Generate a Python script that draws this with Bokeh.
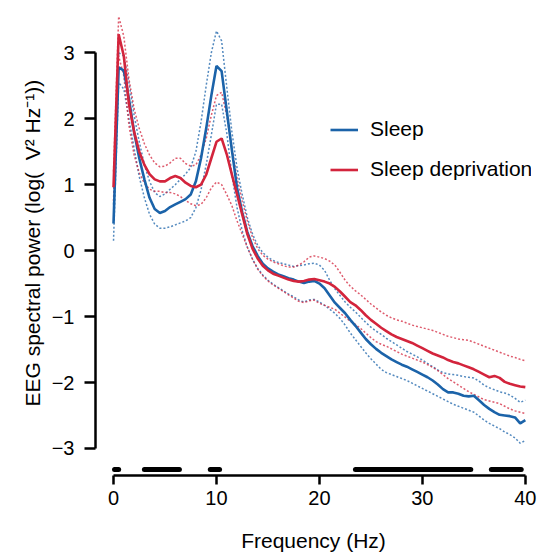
from bokeh.plotting import figure
from bokeh.models import FixedTicker, Legend, LegendItem, Title
from bokeh.embed import file_html
from bokeh.resources import INLINE

freq = [0.0, 0.5, 1.0, 1.5, 2.0, 2.5, 3.0, 3.5, 4.0, 4.5,
        5.0, 5.5, 6.0, 6.5, 7.0, 7.5, 8.0, 8.5, 9.0, 9.5,
        10.0, 10.5, 11.0, 11.5, 12.0, 12.5, 13.0, 13.5, 14.0, 14.5,
        15.0, 15.5, 16.0, 16.5, 17.0, 17.5, 18.0, 18.5, 19.0, 19.5,
        20.0, 20.5, 21.0, 21.5, 22.0, 22.5, 23.0, 23.5, 24.0, 24.5,
        25.0, 25.5, 26.0, 26.5, 27.0, 27.5, 28.0, 28.5, 29.0, 29.5,
        30.0, 30.5, 31.0, 31.5, 32.0, 32.5, 33.0, 33.5, 34.0, 34.5,
        35.0, 35.5, 36.0, 36.5, 37.0, 37.5, 38.0, 38.5, 39.0, 39.5, 40.0]

sleep_mean = [0.41, 2.78, 2.73, 2.30, 1.80, 1.40, 1.08, 0.80, 0.63, 0.57,
              0.60, 0.66, 0.70, 0.74, 0.78, 0.85, 1.05, 1.40, 1.85, 2.35,
              2.80, 2.72, 2.12, 1.52, 0.95, 0.58, 0.28, 0.07, -0.08, -0.20,
              -0.27, -0.32, -0.36, -0.39, -0.42, -0.44, -0.47, -0.49, -0.47, -0.46,
              -0.50, -0.57, -0.68, -0.79, -0.87, -0.95, -1.05, -1.14, -1.24, -1.34,
              -1.42, -1.49, -1.55, -1.60, -1.65, -1.69, -1.73, -1.76, -1.80, -1.84,
              -1.88, -1.92, -1.97, -2.03, -2.10, -2.15, -2.15, -2.17, -2.20, -2.21,
              -2.20, -2.27, -2.34, -2.40, -2.45, -2.49, -2.50, -2.51, -2.53, -2.62, -2.57]

sleep_upper = [0.70, 3.00, 2.95, 2.55, 2.05, 1.65, 1.30, 1.05, 0.88, 0.82,
               0.86, 0.93, 1.00, 1.08, 1.16, 1.26, 1.50, 1.95, 2.50, 3.00,
               3.33, 3.18, 2.48, 1.80, 1.25, 0.85, 0.50, 0.25, 0.08, -0.03,
               -0.10, -0.15, -0.18, -0.20, -0.22, -0.24, -0.23, -0.22, -0.20, -0.19,
               -0.22, -0.30, -0.45, -0.58, -0.68, -0.78, -0.86, -0.93, -1.01, -1.09,
               -1.16, -1.22, -1.27, -1.33, -1.38, -1.43, -1.48, -1.53, -1.57, -1.61,
               -1.66, -1.71, -1.76, -1.81, -1.85, -1.87, -1.88, -1.89, -1.91, -1.92,
               -1.93, -1.98, -2.04, -2.08, -2.11, -2.14, -2.16, -2.19, -2.24, -2.30, -2.27]

sleep_lower = [0.15, 2.55, 2.45, 2.00, 1.55, 1.12, 0.80, 0.55, 0.40, 0.34,
               0.34, 0.36, 0.39, 0.42, 0.45, 0.50, 0.65, 0.92, 1.30, 1.75,
               2.22, 2.22, 1.78, 1.15, 0.65, 0.30, 0.05, -0.13, -0.27, -0.37,
               -0.45, -0.51, -0.56, -0.61, -0.66, -0.70, -0.75, -0.78, -0.75, -0.74,
               -0.78, -0.83, -0.89, -0.95, -1.03, -1.13, -1.25, -1.35, -1.45, -1.55,
               -1.64, -1.72, -1.80, -1.85, -1.88, -1.91, -1.94, -1.97, -2.01, -2.05,
               -2.09, -2.13, -2.17, -2.21, -2.25, -2.29, -2.33, -2.36, -2.39, -2.42,
               -2.45, -2.51, -2.57, -2.62, -2.66, -2.70, -2.75, -2.79, -2.84, -2.92, -2.88]

sd_mean = [0.96, 3.28, 2.95, 2.22, 1.80, 1.50, 1.30, 1.16, 1.08, 1.05,
           1.05, 1.10, 1.13, 1.10, 1.03, 0.98, 0.96, 1.00, 1.15, 1.40,
           1.65, 1.70, 1.46, 1.15, 0.85, 0.55, 0.25, 0.03, -0.12, -0.23,
           -0.30, -0.35, -0.38, -0.41, -0.44, -0.46, -0.47, -0.46, -0.44, -0.43,
           -0.45, -0.47, -0.50, -0.55, -0.62, -0.70, -0.78, -0.83, -0.90, -0.98,
           -1.05, -1.11, -1.17, -1.22, -1.27, -1.31, -1.34, -1.37, -1.40, -1.44,
           -1.48, -1.52, -1.56, -1.59, -1.62, -1.66, -1.69, -1.71, -1.74, -1.77,
           -1.80, -1.84, -1.88, -1.92, -1.90, -1.93, -1.99, -2.02, -2.04, -2.06, -2.07]

sd_upper = [1.20, 3.55, 3.25, 2.60, 2.15, 1.85, 1.62, 1.45, 1.33, 1.27,
            1.28, 1.33, 1.40, 1.40, 1.32, 1.28, 1.30, 1.45, 1.70, 2.05,
            2.35, 2.40, 2.05, 1.55, 1.10, 0.75, 0.45, 0.20, 0.03, -0.07,
            -0.13, -0.17, -0.20, -0.23, -0.25, -0.25, -0.22, -0.17, -0.10, -0.08,
            -0.10, -0.12, -0.16, -0.22, -0.33, -0.45, -0.54, -0.61, -0.67, -0.74,
            -0.81, -0.87, -0.93, -0.98, -1.02, -1.05, -1.07, -1.10, -1.13, -1.15,
            -1.17, -1.19, -1.21, -1.24, -1.27, -1.30, -1.32, -1.34, -1.35, -1.36,
            -1.39, -1.42, -1.45, -1.48, -1.51, -1.54, -1.57, -1.60, -1.62, -1.65, -1.67]

sd_lower = [0.75, 2.95, 2.65, 1.90, 1.45, 1.18, 1.02, 0.93, 0.90, 0.90,
            0.88, 0.88, 0.86, 0.82, 0.76, 0.71, 0.68, 0.70, 0.80, 0.95,
            1.04, 1.00, 0.85, 0.68, 0.45, 0.25, 0.05, -0.13, -0.28, -0.38,
            -0.46, -0.52, -0.57, -0.62, -0.67, -0.72, -0.77, -0.79, -0.76, -0.75,
            -0.80, -0.83, -0.86, -0.89, -0.95, -1.01, -1.07, -1.12, -1.18, -1.25,
            -1.32, -1.38, -1.42, -1.45, -1.49, -1.53, -1.57, -1.60, -1.63, -1.66,
            -1.69, -1.73, -1.77, -1.82, -1.88, -1.94, -1.99, -2.04, -2.09, -2.14,
            -2.18, -2.22, -2.26, -2.28, -2.30, -2.32, -2.36, -2.40, -2.43, -2.45, -2.47]

# significant frequency ranges (Hz)
sig_start = [0.1, 3.0, 9.4, 23.5, 36.7]
sig_end = [0.5, 6.4, 10.3, 34.7, 39.6]

x_ticks = [0, 10, 20, 30, 40]
y_ticks = [-3, -2, -1, 0, 1, 2, 3]
y_tick_labels = {-3: "\u22123", -2: "\u22122", -1: "\u22121", 0: "0", 1: "1", 2: "2", 3: "3"}

series_names = ["Sleep", "Sleep deprivation"]
x_title = "Frequency (Hz)"
y_title = "EEG spectral power (log(\u00a0\u00a0V\u00b2 Hz\u207b\u00b9))"

BLUE = "#1b63a9"
RED = "#d3243c"
FONT = "Liberation Sans"
SIG_Y = -3.32

p = figure(width=538, height=555, x_range=(-1.75, 40.6), y_range=(-3.41, 3.61),
           output_backend="svg", toolbar_location=None,
           min_border_left=95, min_border_right=7, min_border_top=12, min_border_bottom=80)
p.outline_line_color = None
p.grid.visible = False
p.background_fill_color = "white"
p.border_fill_color = "white"

# bounds (dotted)
for ys, c in [(sleep_upper, BLUE), (sleep_lower, BLUE), (sd_upper, RED), (sd_lower, RED)]:
    p.line(freq, ys, line_color=c, line_width=1.5, line_dash="2 2", line_alpha=0.75)

r_sleep = p.line(freq, sleep_mean, line_color=BLUE, line_width=2.6)
r_sd = p.line(freq, sd_mean, line_color=RED, line_width=2.6)

# significance bars
p.segment(x0=sig_start, y0=[SIG_Y] * len(sig_start), x1=sig_end, y1=[SIG_Y] * len(sig_end),
          line_color="black", line_width=5, line_cap="round")

# axes
for ax in (p.xaxis[0], p.yaxis[0]):
    ax.axis_line_width = 2.5
    ax.axis_line_color = "black"
    ax.major_tick_line_width = 2.5
    ax.major_tick_line_color = "black"
    ax.major_tick_in = 0
    ax.minor_tick_line_color = None
    ax.major_label_text_font = FONT
    ax.major_label_text_font_size = "20px"
    ax.major_label_text_color = "black"

p.xaxis.bounds = (0, 40)
p.xaxis.ticker = FixedTicker(ticks=x_ticks)
p.xaxis.major_tick_out = 9
p.xaxis.major_label_standoff = 6
p.xaxis.axis_label = x_title
p.xaxis.axis_label_standoff = 21
p.xaxis.axis_label_text_font = FONT
p.xaxis.axis_label_text_font_size = "21px"
p.xaxis.axis_label_text_font_style = "normal"
p.xaxis.axis_label_text_color = "black"

p.yaxis.bounds = (-3, 3)
p.yaxis.ticker = FixedTicker(ticks=y_ticks)
p.yaxis.major_tick_out = 11
p.yaxis.major_label_standoff = 10
p.yaxis.major_label_overrides = y_tick_labels

p.add_layout(Title(text=y_title, align="left", offset=69, standoff=10,
                   text_font=FONT, text_font_size="21px", text_font_style="normal",
                   text_color="black"), "left")

legend = Legend(items=[LegendItem(label=series_names[0], renderers=[r_sleep]),
                       LegendItem(label=series_names[1], renderers=[r_sd])],
                location=(235, 294), padding=0, margin=0, spacing=16,
                glyph_width=28, glyph_height=21, label_height=21, label_standoff=12,
                label_text_font=FONT, label_text_font_size="21px", label_text_color="black",
                border_line_alpha=0, background_fill_alpha=0)
p.add_layout(legend)

open("out.html", "w").write(file_html(p, INLINE))
